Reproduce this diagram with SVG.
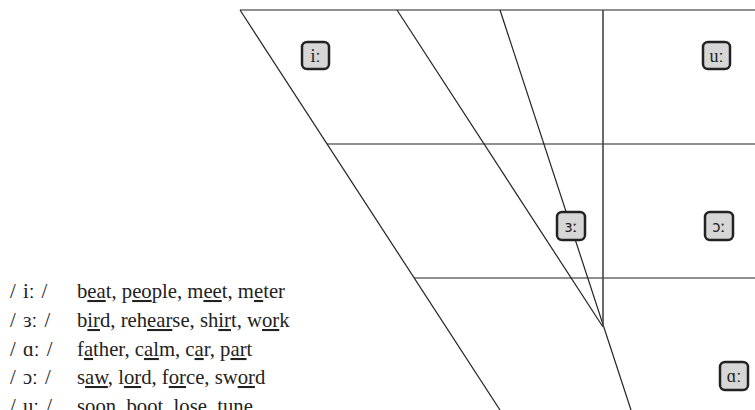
<svg xmlns="http://www.w3.org/2000/svg" width="755" height="410" viewBox="0 0 755 410">
<style>
.ln{stroke:#222;stroke-width:1.2;fill:none}
.vt{stroke:#444;stroke-width:1.6;fill:none}
.box{fill:#d6d6d6;stroke:#222;stroke-width:2.5}
.sym{font-family:"Liberation Serif","DejaVu Serif",serif;font-size:18px;fill:#222;text-anchor:middle}
.syms{font-family:"DejaVu Sans","Liberation Sans",sans-serif;font-size:15px;fill:#222;text-anchor:middle}
.lst{font-family:"Liberation Serif","DejaVu Serif",serif;font-size:20.7px;fill:#222}
.ipa{word-spacing:2px}
.u{text-decoration:underline}
</style>
<rect width="755" height="410" fill="#fff"/>
<g id="connectors">
<line class="ln" x1="240" y1="10" x2="755" y2="10"/>
<line class="ln" x1="327" y1="144" x2="755" y2="144"/>
<line class="ln" x1="414" y1="278" x2="755" y2="278"/>
<line class="ln" x1="240" y1="10" x2="500" y2="410"/>
<line class="ln" x1="397" y1="10" x2="603" y2="327"/>
<line class="ln" x1="500" y1="10" x2="631" y2="410"/>
<line class="vt" x1="603" y1="10" x2="603" y2="327"/>
</g>
<g id="node-i">
<rect class="box" x="302" y="42" width="27" height="27" rx="5"/>
<text class="sym" x="315.5" y="61.5">iː</text>
</g>
<g id="node-u">
<rect class="box" x="703" y="42" width="27" height="27" rx="5"/>
<text class="sym" x="716.5" y="61.5">uː</text>
</g>
<g id="node-er">
<rect class="box" x="557" y="212" width="28" height="28" rx="5"/>
<text class="syms" x="571" y="231.5">ɜː</text>
</g>
<g id="node-or">
<rect class="box" x="705" y="212" width="28" height="28" rx="5"/>
<text class="syms" x="719" y="231.5">ɔː</text>
</g>
<g id="node-a">
<rect class="box" x="720" y="362" width="28" height="28" rx="5"/>
<text class="sym" x="734" y="381.5">ɑː</text>
</g>
<g id="legend" class="lst">
<text class="ipa" x="10" y="298">/ iː /</text>
<text x="77" y="298">b<tspan class="u">ea</tspan>t, p<tspan class="u">eo</tspan>ple, m<tspan class="u">ee</tspan>t, m<tspan class="u">e</tspan>ter</text>
<text class="ipa" x="10" y="327">/ ɜː /</text>
<text x="77" y="327">b<tspan class="u">ir</tspan>d, reh<tspan class="u">ear</tspan>se, sh<tspan class="u">ir</tspan>t, w<tspan class="u">or</tspan>k</text>
<text class="ipa" x="10" y="356">/ ɑː /</text>
<text x="77" y="356">f<tspan class="u">a</tspan>ther, c<tspan class="u">al</tspan>m, c<tspan class="u">a</tspan>r, p<tspan class="u">ar</tspan>t</text>
<text class="ipa" x="10" y="384">/ ɔː /</text>
<text x="77" y="384">s<tspan class="u">aw</tspan>, l<tspan class="u">or</tspan>d, f<tspan class="u">or</tspan>ce, sw<tspan class="u">or</tspan>d</text>
<text class="ipa" x="10" y="413">/ uː /</text>
<text x="77" y="413">s<tspan class="u">oo</tspan>n, b<tspan class="u">oo</tspan>t, l<tspan class="u">o</tspan>se, t<tspan class="u">u</tspan>ne</text>
</g>
</svg>
